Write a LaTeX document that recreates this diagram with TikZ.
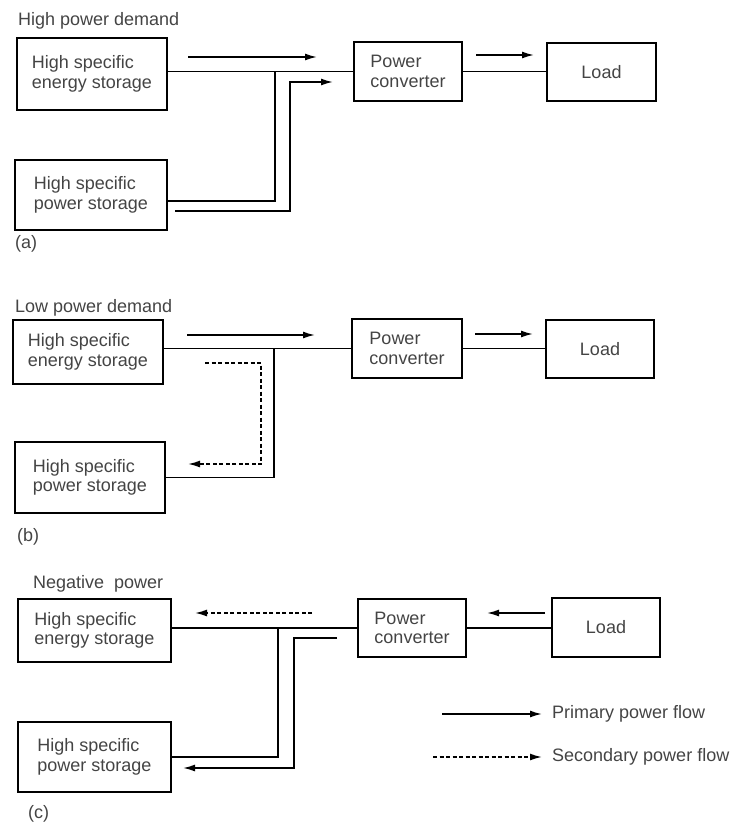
\documentclass[tikz,border=0pt]{standalone}
\usepackage{fontspec}
\setmainfont{Liberation Sans}
\usetikzlibrary{arrows.meta}
\definecolor{txt}{HTML}{444444}
\begin{document}
\begin{tikzpicture}[x=1pt,y=-1pt,
  every node/.style={font=\fontsize{18}{19.5}\selectfont, text=txt, inner sep=0pt},
  box/.style={draw=black, line width=1.8pt, align=left},
  wire/.style={line width=1.7pt},
  flow/.style={line width=1.7pt, -{Latex[length=12pt,width=7pt]}},
  sflow/.style={line width=1.7pt, dash pattern=on 4pt off 2.5pt, -{Latex[length=12pt,width=7pt]}},
  lbl/.style={anchor=base west}]
\useasboundingbox (0,0) rectangle (735,822);

% ---------------- (a) ----------------
\node[lbl] (ha) at (18,25) {High power demand};
\node[box, minimum width=150pt, minimum height=72pt] (e1) at (92,74) {High specific\\energy storage};
\node[box, minimum width=152pt, minimum height=70pt] (p1) at (91,195) {High specific\\power storage};
\node[box, minimum width=108pt, minimum height=59pt] (c1) at (408,71.5) {Power\\converter};
\node[box, minimum width=109pt, minimum height=58pt] (l1) at (601.5,72) {Load};
\node[lbl] (la) at (15,248) {(a)};

\draw[wire] (e1.east |- c1.west) -- (c1.west);
\draw[wire] (c1.east) -- (c1.east -| l1.west);
\coordinate (ja) at (275,71.5);
\coordinate (pa1) at (167,201);
\draw[wire] (ja) |- (pa1);
\coordinate (pa2) at (175,211);
\coordinate (ta2) at (333,82);
\draw[flow] (pa2) -| (290,82) -- (ta2);
\coordinate (ua1) at (188,57);
\coordinate (ua2) at (317,57);
\draw[flow] (ua1) -- (ua2);
\coordinate (ra1) at (476,55);
\coordinate (ra2) at (534,55);
\draw[flow] (ra1) -- (ra2);

% ---------------- (b) ----------------
\node[lbl] (hb) at (15,312) {Low power demand};
\node[box, minimum width=150pt, minimum height=64pt] (e2) at (88,352) {High specific\\energy storage};
\node[box, minimum width=150pt, minimum height=71pt] (p2) at (90,477.5) {High specific\\power storage};
\node[box, minimum width=110pt, minimum height=59pt] (c2) at (407,348.5) {Power\\converter};
\node[box, minimum width=108pt, minimum height=58pt] (l2) at (600,349) {Load};
\node[lbl] (lb) at (17,541) {(b)};

\draw[wire] (e2.east |- c2.west) -- (c2.west);
\draw[wire] (c2.east) -- (c2.east -| l2.west);
\coordinate (jb) at (274,348.5);
\draw[wire] (jb) |- (p2.east);
\coordinate (db1) at (205,363);
\coordinate (db2) at (188,464);
\draw[sflow] (db1) -| (261,464) -- (db2);
\coordinate (ub1) at (187,335);
\coordinate (ub2) at (315,335);
\draw[flow] (ub1) -- (ub2);
\coordinate (rb1) at (475,334);
\coordinate (rb2) at (533,334);
\draw[flow] (rb1) -- (rb2);

% ---------------- (c) ----------------
\node[lbl] (hc) at (33,588) {Negative\ \ power};
\node[box, minimum width=153pt, minimum height=63pt] (e3) at (94.5,630.5) {High specific\\energy storage};
\node[box, minimum width=153pt, minimum height=70pt] (p3) at (94.5,757) {High specific\\power storage};
\node[box, minimum width=108pt, minimum height=58pt] (c3) at (412,628) {Power\\converter};
\node[box, minimum width=108pt, minimum height=59pt] (l3) at (606,627.5) {Load};
\node[lbl] (lc) at (28,818) {(c)};

\draw[wire] (c3.west) -- (c3.west -| e3.east);
\draw[wire] (c3.east -| l3.west) -- (c3.east);
\coordinate (jc) at (278,628);
\draw[wire] (jc) |- (p3.east);
\coordinate (sc1) at (337,638);
\coordinate (sc2) at (183,768);
\draw[flow] (sc1) -| (294,768) -- (sc2);
\coordinate (dc1) at (312,613);
\coordinate (dc2) at (195,613);
\draw[sflow] (dc1) -- (dc2);
\coordinate (rc1) at (545,613);
\coordinate (rc2) at (487,613);
\draw[flow] (rc1) -- (rc2);

% ---------------- legend ----------------
\coordinate (lg1) at (442,714);
\coordinate (lg2) at (542,714);
\draw[flow] (lg1) -- (lg2);
\node[anchor=west] (tp) at (552,714) {Primary power flow};
\coordinate (lg3) at (433,757);
\coordinate (lg4) at (542,757);
\draw[sflow] (lg3) -- (lg4);
\node[anchor=west] (ts) at (552,757) {Secondary power flow};
\end{tikzpicture}
\end{document}
